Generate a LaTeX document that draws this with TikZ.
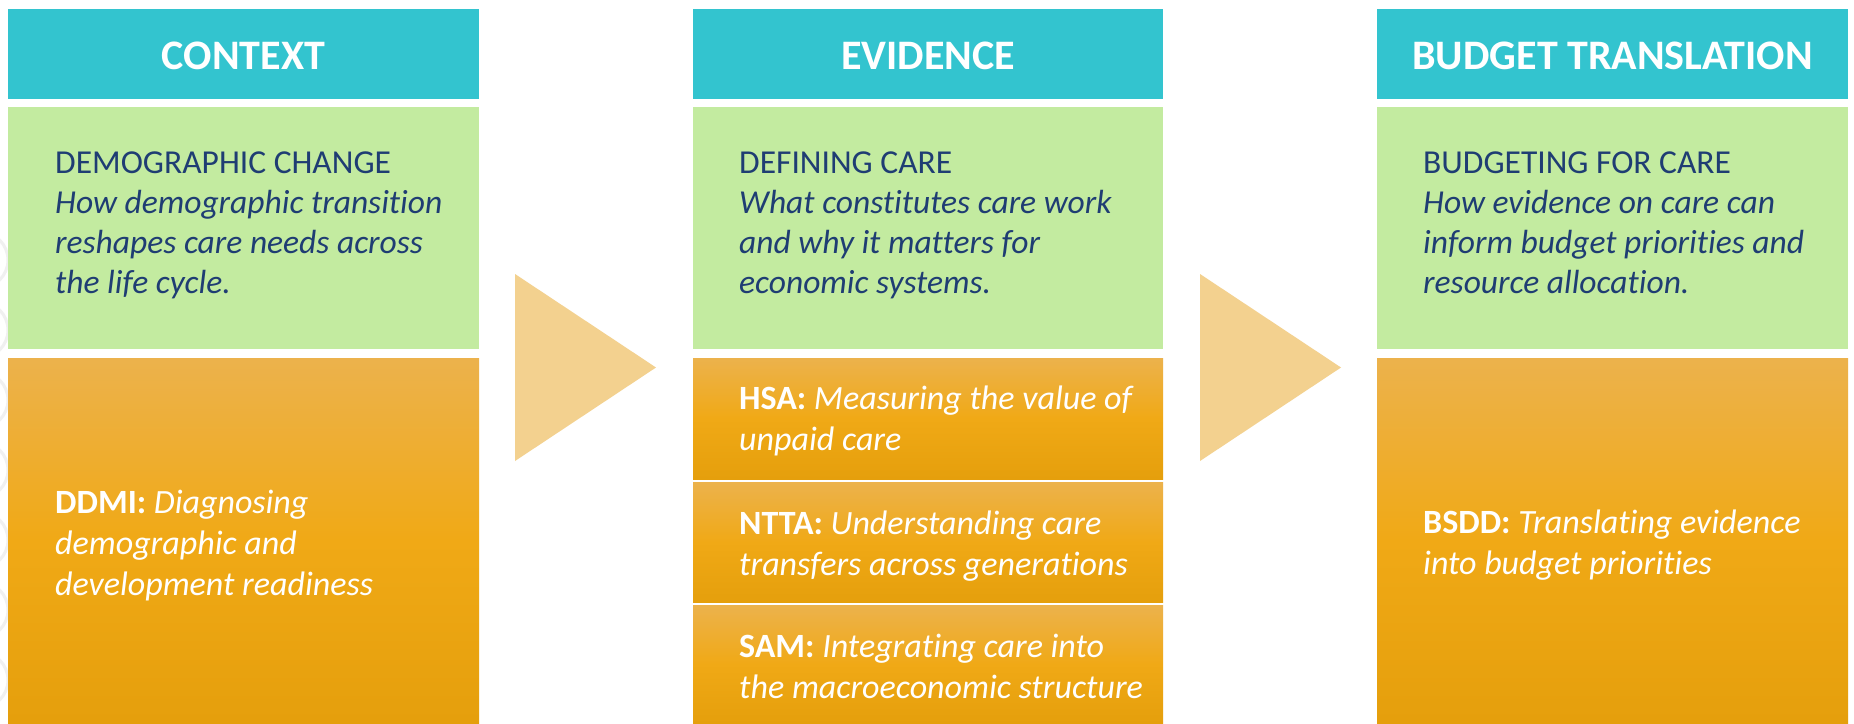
\documentclass[tikz,border=0pt]{standalone}
\usepackage{fontspec}
\setmainfont{Carlito}[Ligatures={NoCommon}]
\definecolor{headteal}{HTML}{33C4CF}
\definecolor{greenbox}{HTML}{C3EBA0}
\definecolor{orgtop}{HTML}{ECB24C}
\definecolor{orgmid}{HTML}{F0A916}
\definecolor{orgbot}{HTML}{E59F0C}
\definecolor{arrowfill}{HTML}{F3D18F}
\definecolor{darkblue}{HTML}{1F3D73}
\definecolor{faintgray}{HTML}{F0F0F0}
\tikzset{
  headbox/.style={fill=headteal, draw=none},
  greenrect/.style={fill=greenbox, draw=none},
  orangerect/.style={top color=orgtop, bottom color=orgbot, middle color=orgmid, draw=none},
  headtext/.style={text=white, font=\fontsize{42}{46}\selectfont\bfseries, inner sep=0pt, anchor=base},
  greentext/.style={text=darkblue, font=\fontsize{33.5}{40}\selectfont, inner sep=0pt, anchor=base west, align=left},
  orangetext/.style={text=white, font=\fontsize{34}{41}\selectfont, inner sep=0pt, anchor=base west, align=left},
  flowarrow/.style={fill=arrowfill, draw=none}
}
\begin{document}
\begin{tikzpicture}[x=1pt,y=-1pt]
\useasboundingbox (0,0) rectangle (1854,723);
\fill[white] (0,0) rectangle (1854,723);
% faint decoration at the left edge
\begin{scope}
\clip (0,230) rectangle (8,723);
\foreach \yy in {260,330,400,470,540,610,680} {
  \draw[faintgray, line width=3pt] (-20,\yy) circle (28);
}
\end{scope}
% column 1
\path[headbox] (8,9) rectangle (479,99);
\path[greenrect] (8,107) rectangle (479,349);
\path[orangerect] (8,358) rectangle (479,723);
% column 2
\path[headbox] (693,9) rectangle (1163,99);
\path[greenrect] (693,107) rectangle (1163,349);
\path[orangerect] (693,358) rectangle (1163,479);
\path[orangerect] (693,482) rectangle (1163,602);
\path[orangerect] (693,605) rectangle (1163,723);
% column 3
\path[headbox] (1377,9) rectangle (1848,99);
\path[greenrect] (1377,107) rectangle (1848,349);
\path[orangerect] (1377,358) rectangle (1848,723);
% flow triangles
\path[flowarrow] (515,274) -- (515,461) -- (656,367.5) -- cycle;
\path[flowarrow] (1200,274) -- (1200,461) -- (1341,367.5) -- cycle;
% headers
\node[headtext] (h1) at (243.5,69) {CONTEXT};
\node[headtext] (h2) at (928,69) {EVIDENCE};
\node[headtext] (h3) at (1612.5,69) {BUDGET TRANSLATION};
% green texts (anchored at the baseline of the last line)
\node[greentext] (g1) at (55,293) {DEMOGRAPHIC CHANGE\\\itshape How demographic transition\\\itshape reshapes care needs across\\\itshape the life cycle.};
\node[greentext] (g2) at (739,293) {DEFINING CARE\\\itshape What constitutes care work\\\itshape and why it matters for\\\itshape economic systems.};
\node[greentext] (g3) at (1423,293) {BUDGETING FOR CARE\\\itshape How evidence on care can\\\itshape inform budget priorities and\\\itshape resource allocation.};
% orange texts
\node[orangetext] (o1) at (55,595) {\textbf{DDMI:} \textit{Diagnosing}\\\itshape demographic and\\\itshape development readiness};
\node[orangetext] (o2) at (739,450) {\textbf{HSA:} \textit{Measuring the value of}\\\itshape unpaid care};
\node[orangetext] (o3) at (739,575) {\textbf{NTTA:} \textit{Understanding care}\\\itshape transfers across generations};
\node[orangetext] (o4) at (739,698) {\textbf{SAM:} \textit{Integrating care into}\\\itshape the macroeconomic structure};
\node[orangetext] (o5) at (1423,574) {\textbf{BSDD:} \textit{Translating evidence}\\\itshape into budget priorities};
\end{tikzpicture}
\end{document}
